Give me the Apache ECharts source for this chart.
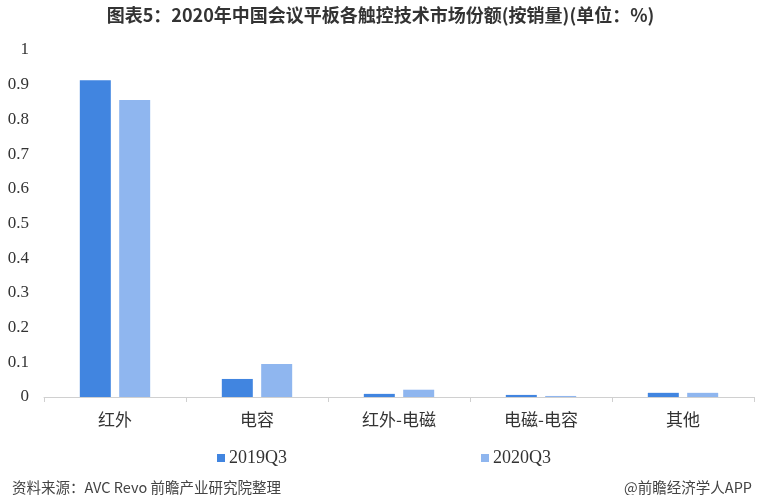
<!DOCTYPE html>
<html><head><meta charset="utf-8">
<script src="https://cdn.jsdelivr.net/npm/echarts@6/dist/echarts.min.js"></script>
<style>html,body{margin:0;padding:0;background:#fff}#c{width:761px;height:495px}</style>
</head><body><div id="c"></div>
<script>
const categories = ['红外', '电容', '红外-电磁', '电磁-电容', '其他'];
const s2019 = [0.913, 0.052, 0.009, 0.006, 0.012];
const s2020 = [0.856, 0.095, 0.021, 0.003, 0.012];
const seriesNames = ['2019Q3', '2020Q3'];
const yTicks = [0, 0.1, 0.2, 0.3, 0.4, 0.5, 0.6, 0.7, 0.8, 0.9, 1];

const chart = echarts.init(document.getElementById('c'), null, {renderer: 'canvas'});
chart.setOption({
  backgroundColor: '#fff',
  animation: false,
  title: [{
    text: '图表5：2020年中国会议平板各触控技术市场份额(按销量)(单位：%)',
    left: 'center', top: 1,
    textStyle: {fontFamily: 'Noto Sans CJK SC', fontSize: 18, fontWeight: 'bold', color: '#333'}
  }, {
    text: '资料来源：AVC Revo 前瞻产业研究院整理',
    left: 7, top: 475,
    textStyle: {fontFamily: 'Noto Sans CJK SC', fontSize: 14.5, fontWeight: 'normal', color: '#444'}
  }, {
    text: '@前瞻经济学人APP',
    right: 4, top: 475,
    textStyle: {fontFamily: 'Noto Sans CJK SC', fontSize: 14.5, fontWeight: 'normal', color: '#444'}
  }],
  legend: {
    data: seriesNames,
    left: 212, top: 444,
    itemWidth: 8, itemHeight: 8, itemGap: 194,
    icon: 'rect',
    textStyle: {fontFamily: 'Liberation Serif', fontSize: 18, color: '#333', padding: [0, 0, 0, -1]}
  },
  grid: {left: 44, right: 7, top: 50, bottom: 98},
  xAxis: {
    type: 'category',
    data: categories,
    axisLine: {lineStyle: {color: '#d0d0d0', width: 1}},
    axisTick: {show: true, length: 5, lineStyle: {color: '#d0d0d0'}},
    axisLabel: {fontFamily: 'Noto Sans CJK SC', fontSize: 17, color: '#333', margin: 14}
  },
  yAxis: {
    type: 'value',
    min: 0, max: 1, interval: 0.1,
    splitLine: {show: false},
    axisLine: {show: false},
    axisTick: {show: false},
    axisLabel: {fontFamily: 'Liberation Serif', fontSize: 17, color: '#333', margin: 15,
      formatter: v => yTicks.includes(Math.round(v * 10) / 10) ? String(Math.round(v * 10) / 10) : ''}
  },
  series: [{
    name: seriesNames[0], type: 'bar', data: s2019,
    barWidth: 31, barGap: '27%',
    itemStyle: {color: '#4185e0'}
  }, {
    name: seriesNames[1], type: 'bar', data: s2020,
    barWidth: 31,
    itemStyle: {color: '#8fb6ef'}
  }]
});
</script></body></html>
